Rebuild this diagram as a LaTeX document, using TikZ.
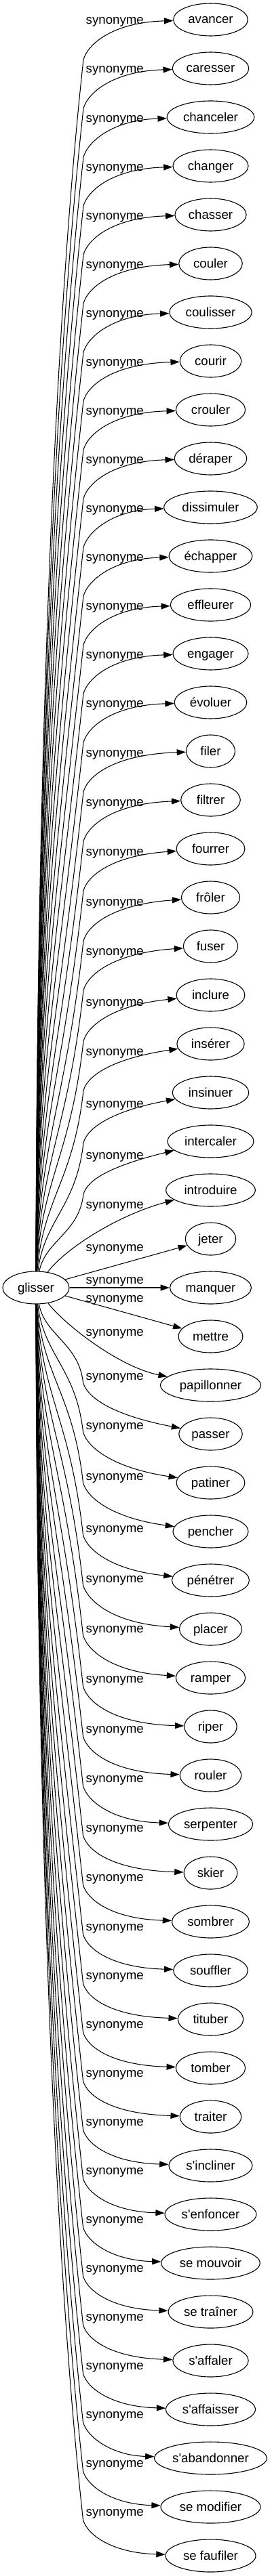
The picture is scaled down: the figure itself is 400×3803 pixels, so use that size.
\documentclass[tikz,border=0pt]{standalone}
\usepackage{fontspec}
\newfontfamily\lab{Liberation Sans}
\usetikzlibrary{arrows.meta,shapes.geometric}
\begin{document}
\begin{tikzpicture}[x=1pt,y=-1pt,
  nd/.style={ellipse,draw,line width=1.1pt,inner sep=0pt,minimum height=48pt,
    text height=13.5pt,text depth=1.5pt,font=\lab\fontsize{18.67pt}{22pt}\selectfont},
  lbl/.style={anchor=base west,inner sep=0pt,font=\lab\fontsize{18.67pt}{22pt}\selectfont},
  syn/.style={draw,line width=1.05pt,-{Triangle[length=13.3pt,width=9pt]}}]
\useasboundingbox (0,0) rectangle (400,3803);
% source node
\node[nd,minimum width=98pt] (g) at (53,1901) {glisser};
% target nodes
\foreach \w/\ww [count=\i from 0] in {avancer/109.6,caresser/112.5,chanceler/128.6,changer/111.1,chasser/105.2,couler/93.5,coulisser/121.4,courir/90.5,crouler/102.3,déraper/106.6,dissimuler/137.5,échapper/122.8,effleurer/118.4,engager/111.1,évoluer/106.7,filer/72,filtrer/87.6,fourrer/100.8,frôler/86.1,fuser/80.3,inclure/100.8,insérer/99.3,insinuer/112.6,intercaler/127.2,introduire/131.6,jeter/74.4,manquer/119.9,mettre/94.9,papillonner/147.8,passer/93.5,patiner/100.8,pencher/111.1,pénétrer/114,placer/92,ramper/102.3,riper/77.3,rouler/90.5,serpenter/124.3,skier/78.8,sombrer/114,souffler/109.6,tituber/96.4,tomber/102.3,traiter/90.5,s'incliner/123.2,s'enfoncer/134.9,se mouvoir/145.6,se traîner/125,s'affaler/111.4,s'affaisser/131.9,s'abandonner/165.7,se modifier/147,se faufiler/133}{
  \node[nd,minimum width=\ww pt] (n\i) at (310.5,29+72*\i) {\w};
}
% upper edges
\foreach \i/\Lo/\Dd/\xs in {0/2/4/54,1/2/4/54.25,2/2/4/54.5,3/2/4/54.75,4/2/4/55,5/2/4/55.25,6/2/4/55.5,7/2/4/55.75,8/2/4/56,9/2/4/56.25,10/2/4/56.5,11/2/4/56.75,12/2/4/57,13/2/4/57.25,14/2/4/57.5,15/3/5/57.75,16/4/5/58,17/5/10/58.25,18/7/10/59,19/8/10/60,20/11/15/61,21/12/22/63,22/17/27/65,23/21/36/67}{
  \pgfmathsetmacro\Yt{29+72*\i}
  \pgfmathsetmacro\Yl{\Yt+\Lo}
  \pgfmathsetmacro\Yb{\Yl+57}
  \pgfmathsetmacro\Ll{1877-\Yb}
  \pgfmathsetmacro\Hh{min(0.5*\Ll,400)}
  \pgfmathsetmacro\Ca{1877-0.4*\Ll}
  \pgfmathsetmacro\Cbx{123-0.11*\Hh}
  \pgfmathsetmacro\Cby{\Yb+\Hh}
  \pgfmathsetmacro\Cc{\Yb-22}
  \pgfmathsetmacro\Cd{\Yt+\Dd}
  \draw[syn] (g) .. controls (\xs,\Ca) and (\Cbx,\Cby) .. (123,\Yb) .. controls (129,\Cc) and (165,\Cd) .. (n\i);
  \node[lbl] (l\i) at (126.5,\Yl+5) {synonyme};
}
% central edges
\draw[syn] (g) .. controls (95,1845) and (170,1795) .. (n24);
\node[lbl] (l24) at (126.5,1784) {synonyme};
\draw[syn] (g) -- (n25);
\node[lbl] (l25) at (126.5,1847) {synonyme};
\draw[syn] (g) -- (n26);
\node[lbl] (l26) at (126.5,1895) {synonyme};
\draw[syn] (g) -- (n27);
\node[lbl] (l27) at (126.5,1922) {synonyme};
\draw[syn] (g) .. controls (95,1955) and (175,2018) .. (n28);
\node[lbl] (l28) at (126.5,1972) {synonyme};
% lower edges
\foreach \i/\Lo/\Dd/\xs/\Bo in {29/-85/-28/66/9,30/-84/-22/64/9,31/-81/-20/62/9,32/-76/-15/61/9,33/-74/-8/60/9,34/-72/-8/59/9,35/-70/-4/58.25/10.5,36/-68/-4/58/10.5,37/-67/-4/57.75/10.5,38/-66/-4/57.5/10.5,39/-65/-4/57.25/10.5,40/-64/-4/57/10.5,41/-63.5/-4/56.75/10.5,42/-63.5/-4/56.5/10.5,43/-63.5/-4/56.25/10.5,44/-63.5/-4/56/10.5,45/-63.5/-4/55.75/10.5,46/-63.5/-4/55.5/10.5,47/-63.5/-4/55.25/10.5,48/-63.5/-4/55/10.5,49/-63.5/-4/54.75/10.5,50/-63.5/-4/54.5/10.5,51/-63.5/-4/54.25/10.5,52/-63.5/-4/54/10.5}{
  \pgfmathsetmacro\Yt{29+72*\i}
  \pgfmathsetmacro\Yl{\Yt+\Lo}
  \pgfmathsetmacro\Yb{\Yl+\Bo}
  \pgfmathsetmacro\Ll{\Yb-1925}
  \pgfmathsetmacro\Hh{min(0.5*\Ll,400)}
  \pgfmathsetmacro\Ca{1925+0.4*\Ll}
  \pgfmathsetmacro\Cbx{122.5-0.11*\Hh}
  \pgfmathsetmacro\Cby{\Yb-\Hh}
  \pgfmathsetmacro\Cc{\Yb+22}
  \pgfmathsetmacro\Cd{\Yt+\Dd}
  \draw[syn] (g) .. controls (\xs,\Ca) and (\Cbx,\Cby) .. (122.5,\Yb) .. controls (128.5,\Cc) and (165,\Cd) .. (n\i);
  \node[lbl] (l\i) at (126.5,\Yl+5) {synonyme};
}
\end{tikzpicture}
\end{document}
